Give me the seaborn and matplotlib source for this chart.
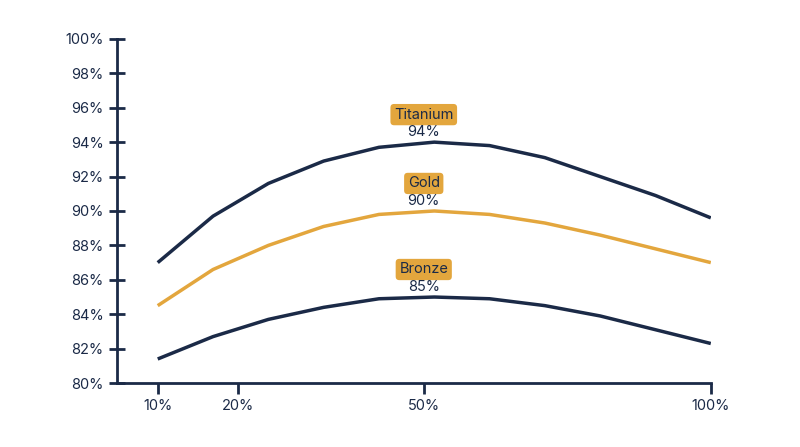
import numpy as np
import matplotlib
matplotlib.use("Agg")
import matplotlib.pyplot as plt
import seaborn as sns
import pandas as pd

sns.set_theme(style="white")
plt.rcParams['font.family'] = ['Inter', 'DejaVu Sans']

# x given as position along the axis (0 = 10%, 1 = 100%)
x_pos = [0.0, 0.1, 0.2, 0.3, 0.4, 0.5, 0.6, 0.7, 0.8, 0.9, 1.0]
titanium = [87.0, 89.7, 91.6, 92.9, 93.7, 94.0, 93.8, 93.1, 92.0, 90.9, 89.6]
gold = [84.5, 86.6, 88.0, 89.1, 89.8, 90.0, 89.8, 89.3, 88.6, 87.8, 87.0]
bronze = [81.4, 82.7, 83.7, 84.4, 84.9, 85.0, 84.9, 84.5, 83.9, 83.1, 82.3]
tick_pos = [0.0, 0.146, 0.481, 1.0]
tick_labels = ["10%", "20%", "50%", "100%"]
peaks = [("Titanium", 94, "94%"), ("Gold", 90, "90%"), ("Bronze", 85, "85%")]
label_pos = 0.481

navy = "#1B2A47"
orange = "#E3A63D"

fig = plt.figure(figsize=(8, 4.47), dpi=100)
ax = fig.add_axes([0.146, 0.143, 0.7425, 0.77])
df = pd.DataFrame({"x": x_pos, "Titanium": titanium, "Gold": gold, "Bronze": bronze})
for name, col in [("Titanium", navy), ("Gold", orange), ("Bronze", navy)]:
    sns.lineplot(data=df, x="x", y=name, ax=ax, color=col, linewidth=2.5,
                 solid_joinstyle="round", solid_capstyle="butt")

for name, v, lab in peaks:
    ax.text(label_pos, v + 1.6, name, ha="center", va="center", fontsize=10.5, color=navy,
            bbox=dict(boxstyle="round,pad=0.25", fc=orange, ec="none"))
    ax.text(label_pos, v + 0.6, lab, ha="center", va="center", fontsize=10.5, color=navy)

ax.set_xlim(-0.074, 1.0)
ax.set_ylim(80, 100)
ax.set_xticks(tick_pos)
ax.set_xticklabels(tick_labels)
yt = np.arange(80, 101, 2)
ax.set_yticks(yt)
ax.set_yticklabels([f"{v}%" for v in yt])
ax.set_xlabel("")
ax.set_ylabel("")
for s in ["top", "right"]:
    ax.spines[s].set_visible(False)
for s in ["left", "bottom"]:
    ax.spines[s].set_color(navy)
    ax.spines[s].set_linewidth(2)
ax.tick_params(axis="y", left=True, direction="inout", length=12, width=2, color=navy,
               labelcolor=navy, labelsize=10.5)
ax.tick_params(axis="x", bottom=True, direction="out", length=8, width=2, color=navy,
               labelcolor=navy, labelsize=10.5)
fig.savefig("out.png", dpi=100)
